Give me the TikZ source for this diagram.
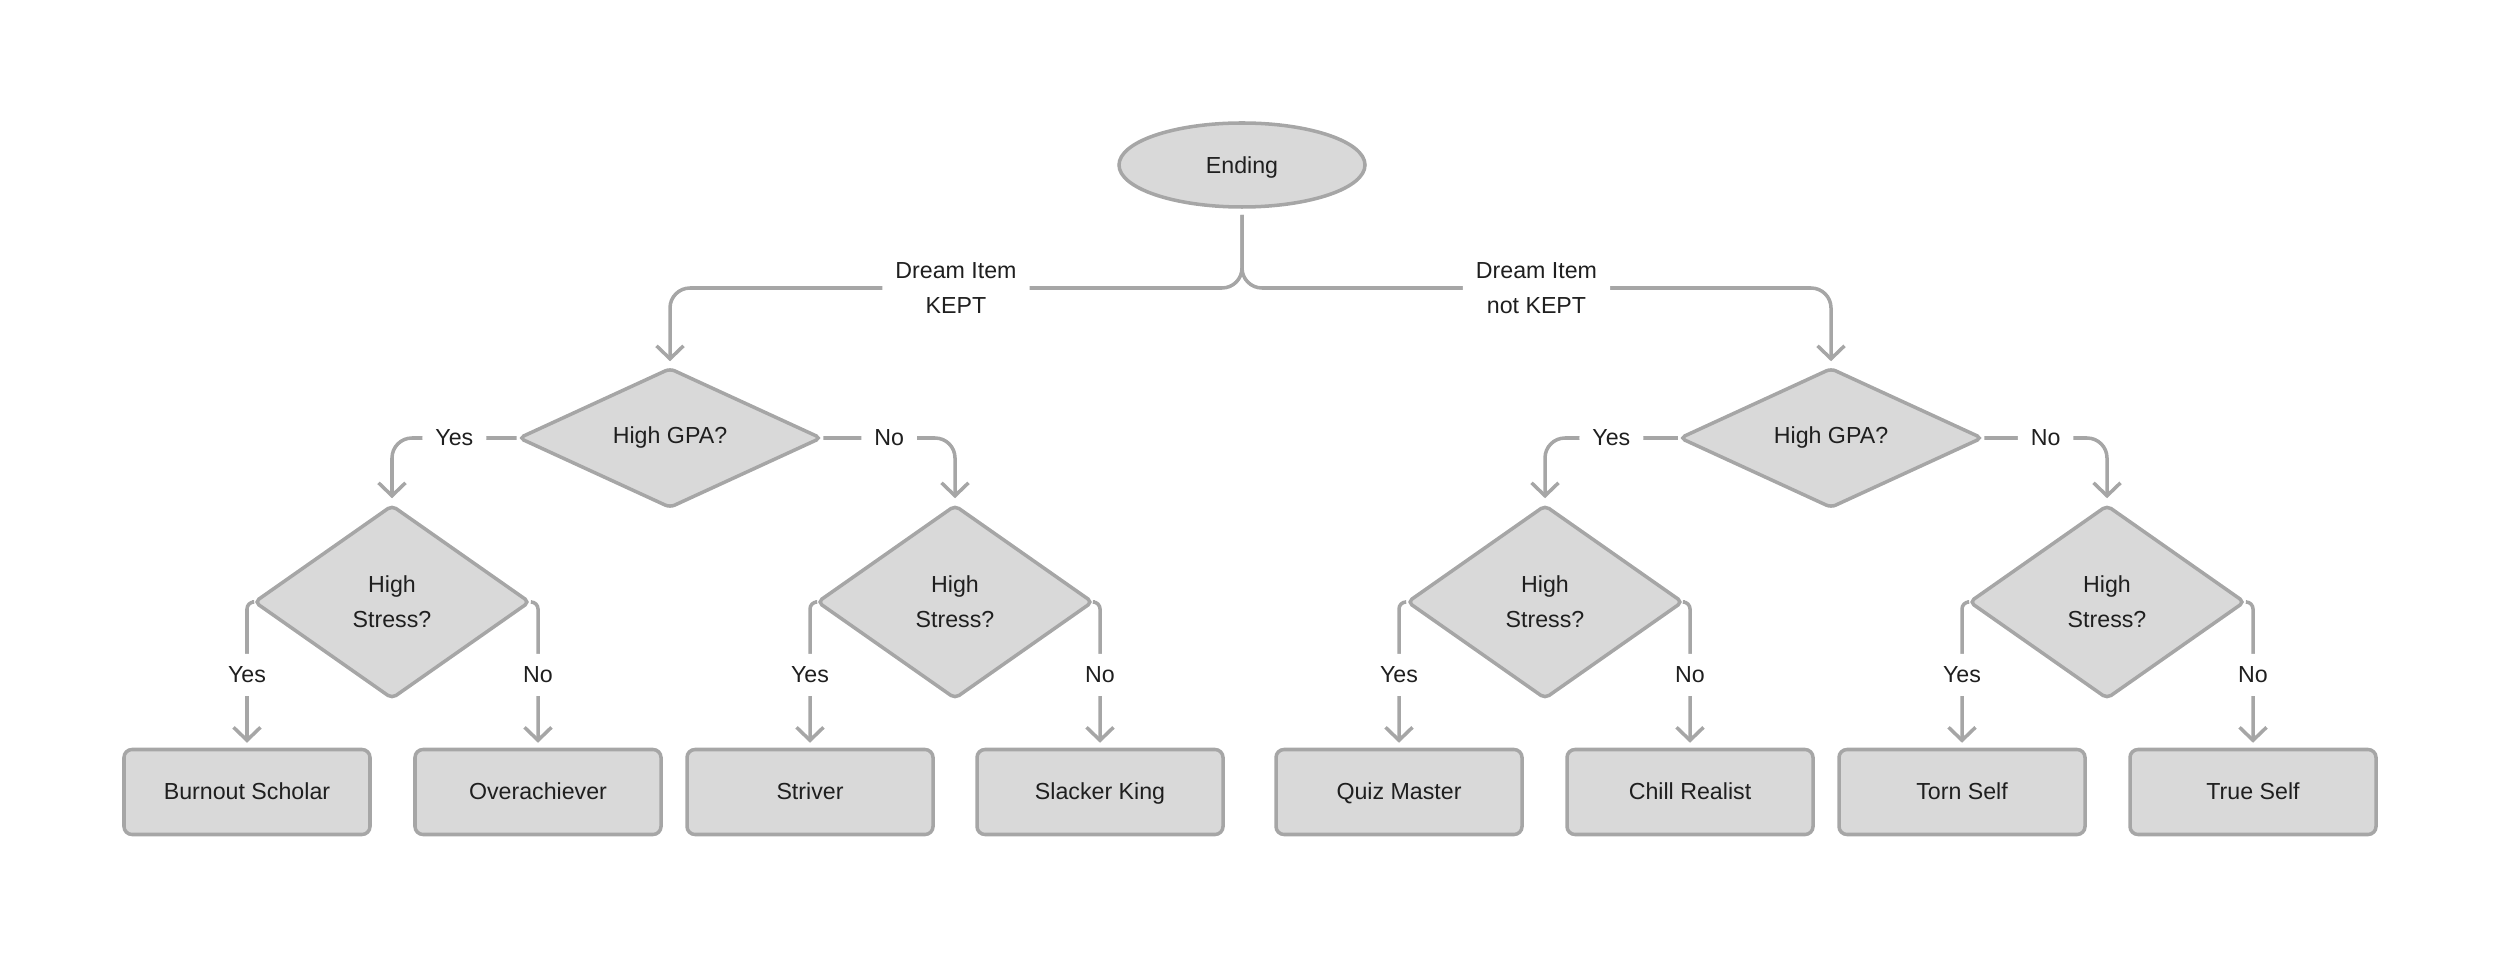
\documentclass[tikz,border=0pt]{standalone}
\usepackage{fontspec}
\setmainfont{Liberation Sans}
\usetikzlibrary{shapes.geometric,arrows.meta}
\definecolor{ln}{HTML}{A6A6A6}
\definecolor{bx}{HTML}{D9D9D9}
\definecolor{tx}{HTML}{1F1F1F}
\begin{document}
\begin{tikzpicture}
[font=\fontsize{6.6}{10}\selectfont,text=tx,
 ar/.style={-{Straight Barb[length=1.3mm,width=2.7mm]},draw=ln,line width=1pt,rounded corners=2mm,shorten >=0.5mm},
 sm/.style={ar,rounded corners=0.7mm},
 lb/.style={fill=white,inner xsep=1.3mm,inner ysep=1.3mm,align=center},
 ov/.style={draw=ln,fill=bx,line width=1pt,ellipse,minimum width=2.46cm,minimum height=0.84cm,text height=2mm,text depth=0.2mm},
 gp/.style={draw=ln,fill=bx,line width=1pt,diamond,minimum width=3.03cm,minimum height=1.40cm,inner sep=0pt,rounded corners=0.5mm},
 st/.style={gp,minimum width=2.76cm,minimum height=1.94cm,align=center},
 lf/.style={draw=ln,fill=bx,line width=1pt,rectangle,rounded corners=0.8mm,minimum width=2.46cm,minimum height=0.85cm,text height=1.85mm,text depth=0.35mm}]
\useasboundingbox (0,0) rectangle (25,-9.59);

\node [ov] at (12.42,-1.65) (end) {Ending};
\coordinate (jn) at (12.42,-2.88);

\node [gp] at (6.70,-4.38) (gpaL) {High GPA?};
\node [gp] at (18.31,-4.38) (gpaR) {High GPA?};

\node [st] at (3.92,-6.02) (s1) {High\\Stress?};
\node [st] at (9.55,-6.02) (s2) {High\\Stress?};
\node [st] at (15.45,-6.02) (s3) {High\\Stress?};
\node [st] at (21.07,-6.02) (s4) {High\\Stress?};

\node [lf] at (2.47,-7.92) (l1) {Burnout Scholar};
\node [lf] at (5.38,-7.92) (l2) {Overachiever};
\node [lf] at (8.10,-7.92) (l3) {Striver};
\node [lf] at (11.00,-7.92) (l4) {Slacker King};
\node [lf] at (13.99,-7.92) (l5) {Quiz Master};
\node [lf] at (16.90,-7.92) (l6) {Chill Realist};
\node [lf] at (19.62,-7.92) (l7) {Torn Self};
\node [lf] at (22.53,-7.92) (l8) {True Self};

\draw [ar,shorten <=0.6mm] (end.south) -- (jn) -- node [lb] {Dream Item\\KEPT} (jn -| gpaL.north) -- (gpaL.north);
\draw [ar,shorten <=0.6mm] (end.south) -- (jn) -- node [lb] {Dream Item\\not KEPT} (jn -| gpaR.north) -- (gpaR.north);

\draw [ar] (gpaL.west) -- node [lb] {Yes} (gpaL.west -| s1.north) -- (s1.north);
\draw [ar] (gpaL.east) -- node [lb] {No} (gpaL.east -| s2.north) -- (s2.north);
\draw [ar] (gpaR.west) -- node [lb] {Yes} (gpaR.west -| s3.north) -- (s3.north);
\draw [ar] (gpaR.east) -- node [lb] {No} (gpaR.east -| s4.north) -- (s4.north);

\draw [sm] (s1.west) -- (s1.west -| l1.north) -- node [lb] {Yes} (l1.north);
\draw [sm] (s1.east) -- (s1.east -| l2.north) -- node [lb] {No} (l2.north);
\draw [sm] (s2.west) -- (s2.west -| l3.north) -- node [lb] {Yes} (l3.north);
\draw [sm] (s2.east) -- (s2.east -| l4.north) -- node [lb] {No} (l4.north);
\draw [sm] (s3.west) -- (s3.west -| l5.north) -- node [lb] {Yes} (l5.north);
\draw [sm] (s3.east) -- (s3.east -| l6.north) -- node [lb] {No} (l6.north);
\draw [sm] (s4.west) -- (s4.west -| l7.north) -- node [lb] {Yes} (l7.north);
\draw [sm] (s4.east) -- (s4.east -| l8.north) -- node [lb] {No} (l8.north);
\end{tikzpicture}
\end{document}
